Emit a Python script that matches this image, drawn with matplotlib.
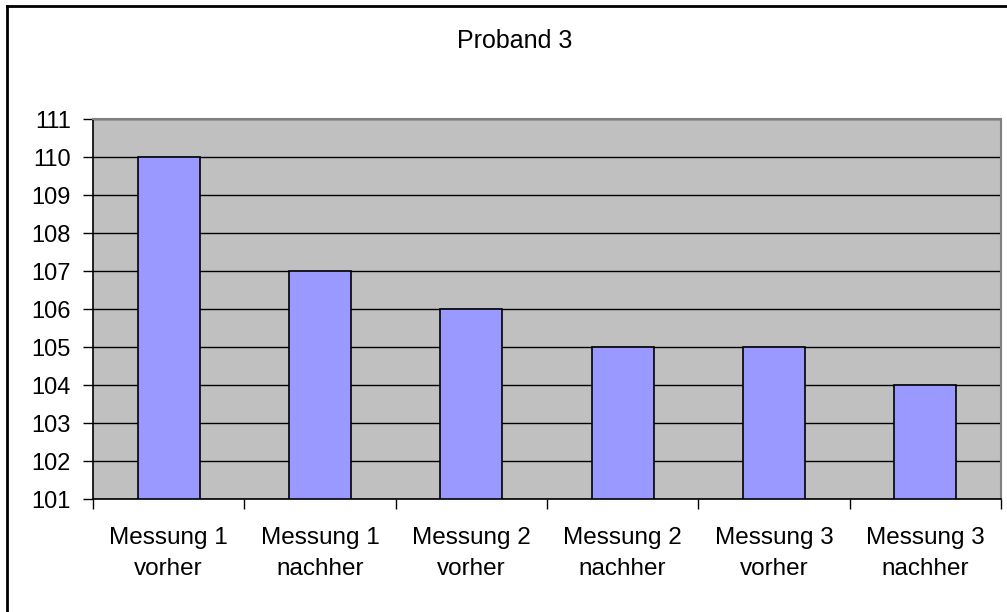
import matplotlib
matplotlib.use("Agg")
import matplotlib.pyplot as plt
from matplotlib.lines import Line2D
import numpy as np

categories = ["Messung 1\nvorher", "Messung 1\nnachher", "Messung 2\nvorher",
              "Messung 2\nnachher", "Messung 3\nvorher", "Messung 3\nnachher"]
values = [110, 107, 106, 105, 105, 104]
y_ticks = list(range(101, 112))
title = "Proband 3"

plt.rcParams['font.family'] = ['Liberation Sans', 'DejaVu Sans']

W, H = 1007, 612
fig = plt.figure(figsize=(W / 100, H / 100), dpi=100)
ax = fig.add_axes([93 / W, 1 - 499 / H, (1001 - 93) / W, (499 - 119) / H])
ax.set_facecolor('#C0C0C0')

x = np.arange(len(categories))
ax.bar(x, [v - 101 for v in values], bottom=101, width=0.41, color='#9999FF',
       edgecolor='black', linewidth=1.2, zorder=3)

ax.set_xlim(-0.5, len(categories) - 0.5)
ax.set_ylim(101, 111)
ax.set_yticks(y_ticks)
ax.set_yticklabels([str(t) for t in y_ticks], fontsize=17)
ax.yaxis.grid(True, color='black', linewidth=1.0, zorder=1)
ax.set_axisbelow(True)

ax.set_xticks(np.arange(-0.5, len(categories), 1.0))
ax.set_xticklabels([])
ax.set_xticks(x, minor=True)
ax.set_xticklabels(categories, minor=True, fontsize=17.5, linespacing=1.52)
ax.tick_params(axis='x', which='minor', length=0, pad=20.5)
ax.tick_params(axis='x', which='major', length=7, width=1, color='black')
ax.tick_params(axis='y', length=7, width=1, pad=9)

for s in ['left', 'bottom']:
    ax.spines[s].set_color('black')
    ax.spines[s].set_linewidth(1.2)
for s in ['top', 'right']:
    ax.spines[s].set_color('#808080')
    ax.spines[s].set_linewidth(1.5)

fig.text(515 / W, 1 - 48 / H, title, ha='center', va='baseline', fontsize=18)

fig.add_artist(Line2D([7 / W, 7 / W], [0, 1 - 6 / H], transform=fig.transFigure,
                      color='black', linewidth=2))
fig.add_artist(Line2D([7 / W, 1], [1 - 6 / H, 1 - 6 / H], transform=fig.transFigure,
                      color='black', linewidth=2))

fig.savefig("out.png", dpi=100)
